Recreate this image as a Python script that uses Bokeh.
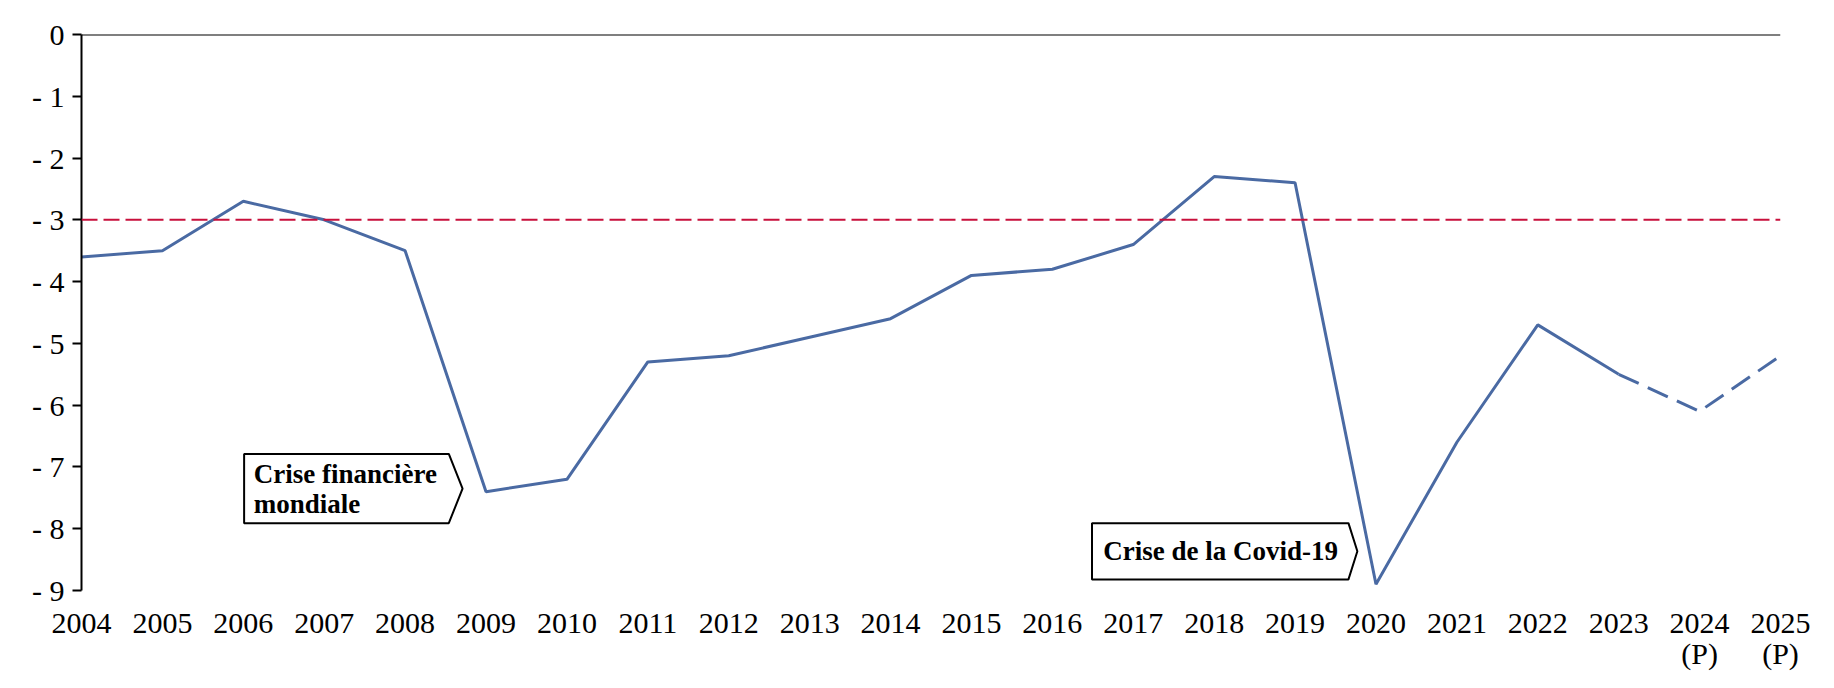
from bokeh.plotting import figure
from bokeh.models import FixedTicker, Span, Range1d
from bokeh.embed import file_html
from bokeh.resources import INLINE
from bokeh.core.properties import value

# ---- data ----
years = list(range(2004, 2026))
balance = [-3.6, -3.5, -2.7, -3.0, -3.5, -7.4, -7.2, -5.3, -5.2, -4.9, -4.6,
           -3.9, -3.8, -3.4, -2.3, -2.4, -8.9, -6.6, -4.7, -5.5, -6.1, -5.2]
forecast_from = 2023
x_labels = [str(y) for y in years]
x_labels[-2] = "2024\n(P)"
x_labels[-1] = "2025\n(P)"
y_ticks = list(range(0, -10, -1))
y_labels = ["0"] + [f"- {k}" for k in range(1, 10)]
threshold = -3

annot1_text = "Crise financière\nmondiale"
annot2_text = "Crise de la Covid-19"

FONT = "Liberation Serif"
LINE_COLOR = "#4A6AA3"
RED = "#C8103C"

p = figure(width=1818, height=672, output_backend="svg", toolbar_location=None,
           x_range=Range1d(years[0], years[-1]), y_range=Range1d(-9, 0),
           min_border_left=81, min_border_right=38, min_border_top=34, min_border_bottom=77)
p.outline_line_color = None
p.xgrid.grid_line_color = None
p.ygrid.grid_line_color = None
p.background_fill_color = "white"
p.border_fill_color = "white"

# axes
p.xaxis.ticker = FixedTicker(ticks=years)
p.xaxis.major_label_overrides = {y: l for y, l in zip(years, x_labels)}
p.xaxis.axis_line_color = None
p.xaxis.major_tick_line_color = None
p.xaxis.minor_tick_line_color = None
p.xaxis.major_label_standoff = 9
p.xaxis.major_label_text_font = FONT
p.xaxis.major_label_text_font_size = "30px"
p.xaxis.major_label_text_color = "black"
p.xaxis.major_label_text_line_height = 0.95

p.yaxis.ticker = FixedTicker(ticks=y_ticks)
p.yaxis.major_label_overrides = {t: l for t, l in zip(y_ticks, y_labels)}
p.yaxis.axis_line_color = "black"
p.yaxis.axis_line_width = 2
p.yaxis.major_tick_line_color = "black"
p.yaxis.major_tick_line_width = 2
p.yaxis.major_tick_out = 9
p.yaxis.major_tick_in = 0
p.yaxis.minor_tick_line_color = None
p.yaxis.major_label_standoff = 8
p.yaxis.major_label_text_font = FONT
p.yaxis.major_label_text_font_size = "30px"
p.yaxis.major_label_text_color = "black"

# zero line on top
p.add_layout(Span(location=0, dimension="width", line_color="black", line_width=2))
# -3% threshold
p.add_layout(Span(location=threshold, dimension="width", line_color=RED,
                  line_width=2, line_dash="16 6"))

# series
k = years.index(forecast_from)
p.line(years[:k + 1], balance[:k + 1], line_color=LINE_COLOR, line_width=3)
p.line(years[k:], balance[k:], line_color=LINE_COLOR, line_width=3, line_dash="22 10")

# callout boxes (arrow-shaped)
def callout(x0, x1, tip, ytop, ybot, tx, text):
    mid = (ytop + ybot) / 2
    p.patch([x0, x1, tip, x1, x0], [ytop, ytop, mid, ybot, ybot],
            fill_color="white", line_color="black", line_width=2)
    p.text(x=[tx], y=[mid], text=[text], text_font=value(FONT), text_font_style="bold",
           text_font_size="27px", text_baseline="middle", text_align="left",
           text_line_height=1.0, text_color="black")

callout(2006.01, 2008.54, 2008.71, -6.79, -7.91, 2006.13, annot1_text)
callout(2016.49, 2019.66, 2019.77, -7.91, -8.82, 2016.63, annot2_text)

open("out.html", "w").write(file_html(p, INLINE))
